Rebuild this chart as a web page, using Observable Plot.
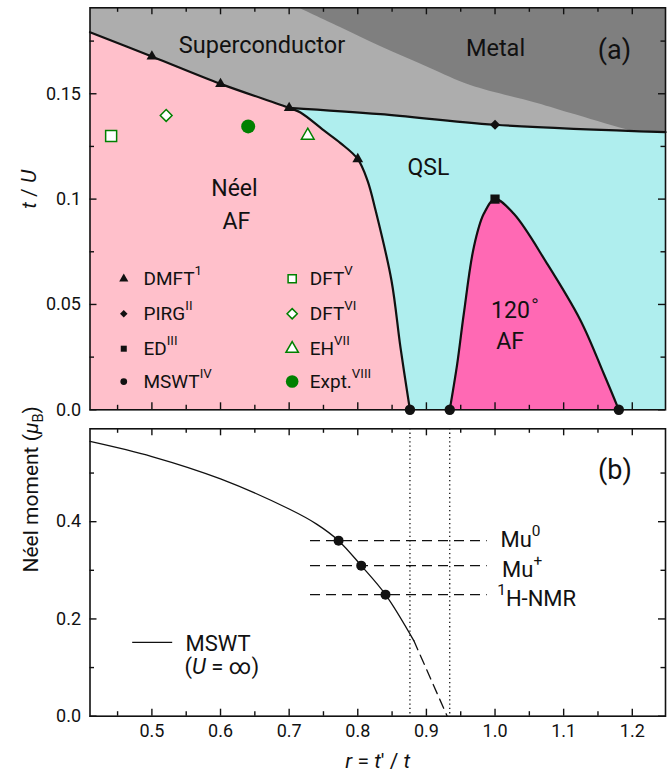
<!DOCTYPE html>
<html><head><meta charset="utf-8">
<script src="https://cdn.jsdelivr.net/npm/d3@7"></script>
<script src="https://cdn.jsdelivr.net/npm/@observablehq/plot@0.6"></script>
<style>
body{margin:0;background:#fff;}
#chart svg{display:block;}
</style></head><body><div id="chart"></div>
<script>
// ---------- DATA ----------
// panel (a): phase boundaries, r = t'/t, t = t/U
const neelR = [0.4098, 0.5, 0.6, 0.7, 0.7165, 0.7505, 0.7748, 0.8, 0.8142, 0.8259, 0.8491, 0.8622, 0.876];
const neelT = [0.1792, 0.1677, 0.1547, 0.1433, 0.1411, 0.1326, 0.1266, 0.119, 0.1088, 0.0947, 0.0614, 0.0296, 0];
const qslR = [0.7, 0.8331, 1.0, 1.2484];
const qslT = [0.1433, 0.1403, 0.1353, 0.1318];
const metalR = [0.7136, 0.7748, 0.8331, 0.906, 0.9645, 1.0619, 1.1108, 1.1906, 1.2484];
const metalT = [0.1908, 0.1814, 0.1724, 0.162, 0.1539, 0.1454, 0.1406, 0.133, 0.128];
const domeR = [0.934, 0.9449, 0.9545, 0.9691, 0.9836, 1.0, 1.0274, 1.076, 1.1246, 1.1585, 1.1804];
const domeT = [0, 0.0218, 0.0456, 0.0772, 0.093, 0.1, 0.093, 0.0693, 0.0424, 0.0171, 0];

// markers panel (a)
const dmftR = [0.5, 0.6, 0.7, 0.8];
const dmftT = [0.1677, 0.1547, 0.1433, 0.119];
const pirgR = [1.0], pirgT = [0.1353];
const edR = [1.0], edT = [0.1];
const mswtAR = [0.876, 0.934, 1.1804], mswtAT = [0, 0, 0];
const dft5 = {r: 0.4406, t: 0.1299};
const dft6 = {r: 0.5208, t: 0.1397};
const ehP = {r: 0.7271, t: 0.1302};
const exptP = {r: 0.6403, t: 0.1345};

// phase labels panel (a)
const phaseLabels = ["Superconductor", "Metal", "QSL", "Néel", "AF", "120^{∘}", "AF"];
const phaseR = [0.6604, 1.0007, 0.903, 0.6203, 0.623, 1.0298, 1.0218];
const phaseT = [0.1728, 0.1717, 0.1149, 0.1051, 0.0895, 0.0473, 0.0324];

// legend panel (a)
const legLabels1 = ["DMFT^{1}", "PIRG^{II}", "ED^{III}", "MSWT^{IV}"];
const legSymbols1 = ["triangle", "diamond2", "square", "circle"];
const legLabels2 = ["DFT^{V}", "DFT^{VI}", "EH^{VII}", "Expt.^{VIII}"];
const legSymbols2 = ["square", "diamond2", "triangle", "circle"];
const legRowT = [0.0622, 0.0456, 0.029, 0.0134];
const legCol = {mark1: 0.459, text1: 0.4877, mark2: 0.7044, text2: 0.73};

// panel (b): Néel moment
const mswtR = [0.4098, 0.5, 0.6, 0.7, 0.74, 0.772, 0.805, 0.8404, 0.8816];
const mswtM = [0.565, 0.534, 0.488, 0.426, 0.395, 0.361, 0.3096, 0.25, 0.1555];
const mswtExtR = [0.8816, 0.9303];
const mswtExtM = [0.1555, 0];
const exptLabels = ["Mu^{0}", "Mu^{+}", "^{1}H-NMR"];
const exptM = [0.361, 0.3096, 0.25];
const exptR = [0.772, 0.805, 0.8404];
const exptLabelR = [1.008, 1.0102, 1.0032];
const exptLabelM = [0.3616, 0.3016, 0.2418];
const exptLineR = [0.7311, 0.9886];
const dottedR = [0.876, 0.934];

// axes
const xDomain = [0.4098, 1.2484];
const xMajor = [0.5, 0.6, 0.7, 0.8, 0.9, 1.0, 1.1, 1.2];
const xMinor = [0.45, 0.55, 0.65, 0.75, 0.85, 0.95, 1.05, 1.15];
const xLabels = ["0.5", "0.6", "0.7", "0.8", "0.9", "1.0", "1.1", "1.2"];
const yTopDomain = [0, 0.1908];
const yTopMajor = [0, 0.05, 0.1, 0.15];
const yTopMinor = [0.025, 0.075, 0.125, 0.175];
const yTopLabels = ["0.0", "0.05", "0.1", "0.15"];
const yBotDomain = [0, 0.591];
const yBotMajor = [0, 0.2, 0.4];
const yBotMinor = [0.1, 0.3, 0.5];
const yBotLabels = ["0.0", "0.2", "0.4"];

// ---------- tables ----------
const zipRT = (R, T) => R.map((r, i) => ({r, t: T[i]}));
const neel = zipRT(neelR, neelT);
const qsl = zipRT(qslR, qslT);
const metal = zipRT(metalR, metalT);
const dome = zipRT(domeR, domeT);
const dmft = zipRT(dmftR, dmftT);
const pirg = zipRT(pirgR, pirgT);
const ed = zipRT(edR, edT);
const mswtA = zipRT(mswtAR, mswtAT);
const phases = phaseLabels.map((s, i) => ({s, r: phaseR[i], t: phaseT[i]}));
const leg1 = legLabels1.map((s, i) => ({s, sym: legSymbols1[i], t: legRowT[i]}));
const leg2 = legLabels2.map((s, i) => ({s, sym: legSymbols2[i], t: legRowT[i]}));
const mswt = zipRT(mswtR, mswtM);
const mswtExt = zipRT(mswtExtR, mswtExtM);
const expts = exptLabels.map((s, i) => ({s, m: exptM[i], r: exptR[i], lr: exptLabelR[i], lm: exptLabelM[i]}));

// ---------- style ----------
const C = {sc: "#adadad", metal: "#7f7f7f", neel: "#ffc0cb", qsl: "#afeeee", af120: "#ff69b4", green: "#008000", ink: "#111"};
const FONT = "Roboto, 'DejaVu Sans', sans-serif";
const W = 671, ML = 89.5, MR = 6;
const TOP = {h: 418, mt: 7.3, mb: 8.7};
const BOT = {h: 362, mt: 10.3, mb: 64.3};

// inward ticks on all four sides (frame height fh)
function tickMarks(fh, yMaj, yMin) {
  const fw = W - ML - MR;
  const s = {stroke: C.ink, strokeWidth: 1.4};
  const id = d => d;
  return [
    Plot.tickX(xMajor, {...s, x: id, insetTop: fh - 7}),
    Plot.tickX(xMinor, {...s, x: id, insetTop: fh - 4.5}),
    Plot.tickX(xMajor, {...s, x: id, insetBottom: fh - 7}),
    Plot.tickX(xMinor, {...s, x: id, insetBottom: fh - 4.5}),
    Plot.tickY(yMaj, {...s, y: id, insetRight: fw - 7}),
    Plot.tickY(yMin, {...s, y: id, insetRight: fw - 4.5}),
    Plot.tickY(yMaj, {...s, y: id, insetLeft: fw - 7}),
    Plot.tickY(yMin, {...s, y: id, insetLeft: fw - 4.5})
  ];
}

const topPlot = Plot.plot({
  width: W, height: TOP.h,
  marginLeft: ML, marginRight: MR, marginTop: TOP.mt, marginBottom: TOP.mb,
  x: {domain: xDomain, label: null, axis: null},
  y: {domain: yTopDomain, label: null, axis: null},
  style: {fontFamily: FONT, fontSize: "18px", background: "white", color: C.ink, overflow: "visible"},
  marks: [
    Plot.frame({fill: C.sc, stroke: "none"}),
    Plot.areaY(metal, {x: "r", y1: "t", y2: () => yTopDomain[1], fill: C.metal, curve: "catmull-rom", clip: true}),
    Plot.areaY(qsl, {x: "r", y1: () => 0, y2: "t", fill: C.qsl, curve: "catmull-rom", clip: true}),
    Plot.areaY(neel, {x: "r", y1: () => 0, y2: "t", fill: C.neel, curve: "catmull-rom", clip: true}),
    Plot.areaY(dome, {x: "r", y1: () => 0, y2: "t", fill: C.af120, curve: "catmull-rom", clip: true}),
    Plot.line(neel, {x: "r", y: "t", stroke: C.ink, strokeWidth: 2.2, curve: "catmull-rom"}),
    Plot.line(qsl, {x: "r", y: "t", stroke: C.ink, strokeWidth: 2.2, curve: "catmull-rom"}),
    Plot.line(dome, {x: "r", y: "t", stroke: C.ink, strokeWidth: 2.2, curve: "catmull-rom"}),
    // phase labels
    Plot.text(phases.slice(0, 2), {x: "r", y: "t", text: "s", fontSize: 23.5, fill: C.ink}),
    Plot.text(phases.slice(2), {x: "r", y: "t", text: "s", fontSize: 23, fill: C.ink}),
    Plot.text(["(a)"], {x: () => 1.174, y: () => 0.1705, text: d => d, fontSize: 27, fill: C.ink}),
    // y label
    Plot.text(["*t* / *U*"], {frameAnchor: "left", dx: -61, rotate: -90, text: d => d, fontSize: 21, fill: C.ink}),
    // ticks and labels
    ...tickMarks(TOP.h - TOP.mt - TOP.mb, yTopMajor, yTopMinor),
    Plot.axisY(yTopMajor, {anchor: "left", label: null, tickSize: 0, tickPadding: 9, fontSize: 18,
      tickFormat: d => yTopLabels[yTopMajor.indexOf(d)]}),
    Plot.frame({stroke: C.ink, strokeWidth: 1.6}),
    // data markers
    Plot.dot(dmft, {x: "r", y: "t", symbol: "triangle", r: 4, fill: C.ink}),
    Plot.dot(pirg, {x: "r", y: "t", symbol: "diamond2", r: 4.6, fill: C.ink}),
    Plot.dot(ed, {x: "r", y: "t", symbol: "square", r: 5.2, fill: C.ink}),
    Plot.dot(mswtA, {x: "r", y: "t", symbol: "circle", r: 5.2, fill: C.ink}),
    Plot.dot([dft5], {x: "r", y: "t", symbol: "square", r: 6.2, fill: "white", stroke: C.green, strokeWidth: 1.5}),
    Plot.dot([dft6], {x: "r", y: "t", symbol: "diamond2", r: 5.3, fill: "white", stroke: C.green, strokeWidth: 1.5}),
    Plot.dot([ehP], {x: "r", y: "t", symbol: "triangle", r: 4.7, fill: "white", stroke: C.green, strokeWidth: 1.5}),
    Plot.dot([exptP], {x: "r", y: "t", symbol: "circle", r: 7, fill: C.green}),
    // legend
    Plot.dot(leg1, {x: () => legCol.mark1, y: "t", symbol: "sym", r: 3.4, fill: C.ink}),
    Plot.text(leg1, {x: () => legCol.text1, y: "t", text: "s", textAnchor: "start", fontSize: 19, fill: C.ink}),
    Plot.dot(leg2.slice(0, 3), {x: () => legCol.mark2, y: "t", symbol: "sym", r: 4.6, fill: "white", stroke: C.green, strokeWidth: 1.5}),
    Plot.dot(leg2.slice(3), {x: () => legCol.mark2, y: "t", symbol: "circle", r: 6.3, fill: C.green}),
    Plot.text(leg2, {x: () => legCol.text2, y: "t", text: "s", textAnchor: "start", fontSize: 19, fill: C.ink})
  ]
});

const bottomPlot = Plot.plot({
  width: W, height: BOT.h,
  marginLeft: ML, marginRight: MR, marginTop: BOT.mt, marginBottom: BOT.mb,
  x: {domain: xDomain, label: null, axis: null},
  y: {domain: yBotDomain, label: null, axis: null},
  style: {fontFamily: FONT, fontSize: "18px", background: "white", color: C.ink, overflow: "visible"},
  marks: [
    Plot.ruleX(dottedR, {stroke: C.ink, strokeWidth: 1.3, strokeDasharray: "1.3,3"}),
    Plot.ruleY(expts, {y: "m", x1: () => exptLineR[0], x2: () => exptLineR[1], stroke: C.ink, strokeWidth: 1.3, strokeDasharray: "10,6"}),
    Plot.line(mswt, {x: "r", y: "t", stroke: C.ink, strokeWidth: 1.3, curve: "catmull-rom"}),
    Plot.line(mswtExt, {x: "r", y: "t", stroke: C.ink, strokeWidth: 1.3, strokeDasharray: "10,6"}),
    Plot.dot(expts, {x: "r", y: "m", r: 5, fill: C.ink}),
    Plot.text(expts, {x: "lr", y: "lm", text: "s", textAnchor: "start", fontSize: 22, fill: C.ink}),
    // legend
    Plot.ruleY([0.152], {x1: () => 0.472, x2: () => 0.5303, stroke: C.ink, strokeWidth: 1.3}),
    Plot.text(["MSWT"], {x: () => 0.549, y: () => 0.148, text: d => d, textAnchor: "start", fontSize: 22, fill: C.ink}),
    Plot.text(["(*U* = ∞)"], {x: () => 0.5475, y: () => 0.1007, text: d => d, textAnchor: "start", fontSize: 22, fill: C.ink}),
    Plot.text(["(b)"], {x: () => 1.1748, y: () => 0.505, text: d => d, fontSize: 27, fill: C.ink}),
    // axis labels
    Plot.text(["Néel moment (*μ*_{B})"], {frameAnchor: "left", dx: -59, rotate: -90, text: d => d, fontSize: 21, fill: C.ink}),
    Plot.text(["*r* = *t*′ / *t*"], {frameAnchor: "bottom", dy: 52, text: d => d, fontSize: 21, fill: C.ink}),
    ...tickMarks(BOT.h - BOT.mt - BOT.mb, yBotMajor, yBotMinor),
    Plot.axisY(yBotMajor, {anchor: "left", label: null, tickSize: 0, tickPadding: 9, fontSize: 18,
      tickFormat: d => yBotLabels[yBotMajor.indexOf(d)]}),
    Plot.axisX(xMajor, {anchor: "bottom", label: null, tickSize: 0, tickPadding: 8, fontSize: 18,
      tickFormat: d => xLabels[xMajor.indexOf(d)]}),
    Plot.frame({stroke: C.ink, strokeWidth: 1.6})
  ]
});

// ---------- rich text: ^{sup}, _{sub}, *italic* ----------
function richify(root) {
  root.querySelectorAll("text").forEach(el => {
    const s = el.textContent;
    if (!/[\^_]\{|\*/.test(s)) return;
    const fs = parseFloat(getComputedStyle(el).fontSize) || 16;
    const segs = [];
    let i = 0, italic = false, buf = "";
    const push = (text, mode) => { if (text) segs.push({text, mode, italic}); };
    while (i < s.length) {
      const c = s[i];
      if ((c === "^" || c === "_") && s[i + 1] === "{") {
        push(buf, "n"); buf = "";
        const j = s.indexOf("}", i + 2);
        push(s.slice(i + 2, j), c === "^" ? "sup" : "sub");
        i = j + 1;
      } else if (c === "*") { push(buf, "n"); buf = ""; italic = !italic; i++; }
      else { buf += c; i++; }
    }
    push(buf, "n");
    let base = 0;
    const dyAttr = el.getAttribute("dy");
    if (dyAttr) {
      base = dyAttr.endsWith("em") ? parseFloat(dyAttr) * fs : parseFloat(dyAttr);
      el.removeAttribute("dy");
    }
    el.textContent = "";
    let shift = -base;
    segs.forEach(seg => {
      const t = document.createElementNS("http://www.w3.org/2000/svg", "tspan");
      const target = seg.mode === "sup" ? -0.5 * fs : seg.mode === "sub" ? 0.25 * fs : 0;
      t.setAttribute("dy", (target - shift).toFixed(2));
      shift = target;
      if (seg.mode !== "n") t.setAttribute("font-size", (0.7 * fs).toFixed(2));
      if (seg.italic) t.setAttribute("font-style", "italic");
      t.textContent = seg.text;
      el.appendChild(t);
    });
  });
}

const host = document.getElementById("chart");
host.appendChild(topPlot);
host.appendChild(bottomPlot);
richify(topPlot);
richify(bottomPlot);
</script>
</body></html>
